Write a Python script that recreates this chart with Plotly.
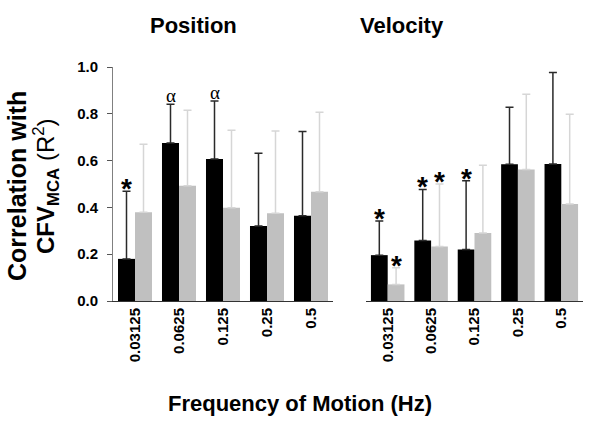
import plotly.graph_objects as go

freqs = ["0.03125", "0.0625", "0.125", "0.25", "0.5"]

# Position panel
pos_black = [0.18, 0.675, 0.607, 0.321, 0.364]
pos_black_err_top = [0.469, 0.841, 0.855, 0.631, 0.724]
pos_gray = [0.379, 0.492, 0.399, 0.375, 0.467]
pos_gray_err_top = [0.670, 0.815, 0.730, 0.727, 0.807]

# Velocity panel
vel_black = [0.196, 0.259, 0.220, 0.584, 0.585]
vel_black_err_top = [0.342, 0.477, 0.514, 0.828, 0.976]
vel_gray = [0.071, 0.233, 0.291, 0.562, 0.415]
vel_gray_err_top = [0.142, 0.500, 0.580, 0.884, 0.798]

# significance markers: (panel, series, index, symbol)
markers = [
    ("pos", "black", 0, "*"),
    ("pos", "black", 1, "α"),
    ("pos", "black", 2, "α"),
    ("vel", "black", 0, "*"),
    ("vel", "gray", 0, "*"),
    ("vel", "black", 1, "*"),
    ("vel", "gray", 1, "*"),
    ("vel", "black", 2, "*"),
]

yticks = [0.0, 0.2, 0.4, 0.6, 0.8, 1.0]

FONT = "Liberation Sans, Arial, sans-serif"
BLACK = "#000000"
GRAY = "#c0c0c0"
BARGAP = 0.227

fig = go.Figure()


def add_pair(vals_b, top_b, vals_g, top_g, xa, ya):
    fig.add_trace(go.Bar(
        x=freqs, y=vals_b, marker=dict(color=BLACK, line=dict(width=0)),
        error_y=dict(type="data", symmetric=False,
                     array=[t - v for t, v in zip(top_b, vals_b)],
                     arrayminus=[0] * len(vals_b),
                     color="#2a2a2a", thickness=1.5, width=4),
        xaxis=xa, yaxis=ya, showlegend=False, hoverinfo="skip"))
    fig.add_trace(go.Bar(
        x=freqs, y=vals_g, marker=dict(color=GRAY, line=dict(width=0)),
        error_y=dict(type="data", symmetric=False,
                     array=[t - v for t, v in zip(top_g, vals_g)],
                     arrayminus=[0] * len(vals_g),
                     color="#d6d6d6", thickness=1.5, width=4),
        xaxis=xa, yaxis=ya, showlegend=False, hoverinfo="skip"))


add_pair(pos_black, pos_black_err_top, pos_gray, pos_gray_err_top, "x", "y")
add_pair(vel_black, vel_black_err_top, vel_gray, vel_gray_err_top, "x2", "y2")

half = (1 - BARGAP) / 4.0
annotations = []
tops = {("pos", "black"): pos_black_err_top, ("pos", "gray"): pos_gray_err_top,
        ("vel", "black"): vel_black_err_top, ("vel", "gray"): vel_gray_err_top}
for panel, series, idx, sym in markers:
    xref, yref = ("x", "y") if panel == "pos" else ("x2", "y2")
    xpos = idx - half if series == "black" else idx + half
    if sym == "*":
        font = dict(family=FONT, size=28, color="black", weight="bold")
        ys = -15
    else:
        font = dict(family="Liberation Serif, serif", size=19, color="black")
        ys = -4
    annotations.append(dict(x=xpos, y=tops[(panel, series)][idx], xref=xref, yref=yref,
                            text=sym, showarrow=False, xanchor="center", yanchor="bottom",
                            yshift=ys, font=font))


def paper_note(x, y, text, size, angle=0, weight="bold"):
    return dict(x=x / 600, y=1 - y / 425, xref="paper", yref="paper", text=text,
                xanchor="center", yanchor="middle", textangle=angle, showarrow=False,
                font=dict(family=FONT, size=size, color="black", weight=weight))


annotations += [
    paper_note(194, 25, "Position", 22),
    paper_note(402, 25, "Velocity", 22),
    paper_note(300, 403, "Frequency of Motion (Hz)", 22),
    paper_note(17, 186, "Correlation with", 25, angle=-90),
    paper_note(46, 186, "<b>CFV<sub>MCA</sub></b> (R<sup>2</sup>)", 24, angle=-90,
               weight="normal"),
]

ydom = [(425 - 301) / 425, (425 - 67) / 425]
common_x = dict(type="category", showline=True, linecolor="#333333", linewidth=1,
                ticks="", tickangle=-90, showgrid=False, zeroline=False, automargin=False,
                tickfont=dict(family=FONT, size=15, color="black", weight="bold"))

fig.update_layout(
    template="none",
    width=600, height=425,
    margin=dict(l=0, r=0, t=0, b=0, pad=0),
    paper_bgcolor="white", plot_bgcolor="white",
    barmode="group", bargap=BARGAP, bargroupgap=0,
    hovermode=False,
    xaxis=dict(domain=[113 / 600, 333 / 600], anchor="y", **common_x),
    xaxis2=dict(domain=[366 / 600, 583 / 600], anchor="y2", **common_x),
    yaxis=dict(domain=ydom, range=[0, 1.0], anchor="x", showline=True, automargin=False,
               linecolor="#808080", linewidth=1, ticks="outside", ticklen=5,
               ticklabelstandoff=6,
               tickcolor="#555555", tickvals=yticks, ticktext=[f"{v:.1f}" for v in yticks],
               showgrid=False, zeroline=False,
               tickfont=dict(family=FONT, size=15, color="black", weight="bold")),
    yaxis2=dict(domain=ydom, range=[0, 1.0], anchor="x2", showline=False, automargin=False,
                showticklabels=False, ticks="", showgrid=False, zeroline=False),
    annotations=annotations,
)

fig.write_html("out.html", config={"displayModeBar": False, "staticPlot": True},
               post_script="document.body.style.margin='0px';document.body.style.overflow='hidden';")
